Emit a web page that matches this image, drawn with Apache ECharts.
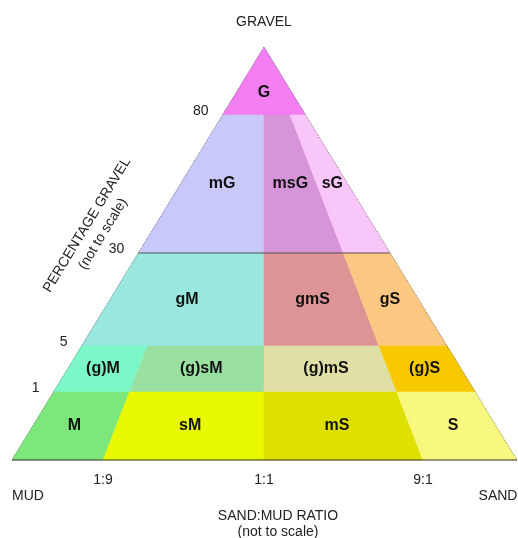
<!DOCTYPE html>
<html><head><meta charset="utf-8">
<script src="https://cdn.jsdelivr.net/npm/echarts@6/dist/echarts.min.js"></script>
<style>html,body{margin:0;padding:0;background:#fff}#c{width:518px;height:538px}</style>
</head><body><div id="c"></div>
<script>
// Classification breaks (not to scale)
var gravelBreaks = [0, 1, 5, 30, 80, 100];          // percentage gravel
var gravelLevels = [0, 68, 114, 207, 345, 413];     // display height units on y axis
var ratioBreaks = [0, 0.1, 0.5, 0.9, 1];            // sand fraction of sand+mud
var ratioLevels = [0, 91, 252, 411, 505];           // display units along base on x axis
var gravelTicks = ['1', '5', '30', '80'];
var ratioTicks = ['1:9', '1:1', '9:1'];
// classes: name, ratio range, gravel range
var classNames  = ['G','mG','msG','sG','gM','gmS','gS','(g)M','(g)sM','(g)mS','(g)S','M','sM','mS','S'];
var classRatio  = [[0,1],[0,0.5],[0.5,0.9],[0.9,1],[0,0.5],[0.5,0.9],[0.9,1],[0,0.1],[0.1,0.5],[0.5,0.9],[0.9,1],[0,0.1],[0.1,0.5],[0.5,0.9],[0.9,1]];
var classGravel = [[80,100],[30,80],[30,80],[30,80],[5,30],[5,30],[5,30],[1,5],[1,5],[1,5],[1,5],[0,1],[0,1],[0,1],[0,1]];
var classColors = ['#f27ef2','#c8c8fa','#d894d9','#f8c6f8','#98e8e0','#dc9494','#fac882','#7cf8c8','#9ae0a0','#e0e0a6','#f8c800','#7ce87c','#e8f800','#e0e000','#f8f880'];

function interp(v, xs, ys){
  for (var i=0;i<xs.length-1;i++){
    if (v<=xs[i+1]) return ys[i] + (v-xs[i])/(xs[i+1]-xs[i])*(ys[i+1]-ys[i]);
  }
  return ys[ys.length-1];
}
var H = gravelLevels[gravelLevels.length-1];
var W = ratioLevels[ratioLevels.length-1];
var apexX = ratioLevels[2];
// map (sand ratio, gravel %) to axis values
function toXY(r, g){
  var h = interp(g, gravelBreaks, gravelLevels);
  var b = interp(r, ratioBreaks, ratioLevels);
  var t = h / H;
  return [apexX + (b - apexX)*(1 - t), h];
}
function toXYh(r, h){
  var b = interp(r, ratioBreaks, ratioLevels);
  return [apexX + (b - apexX)*(1 - h/H), h];
}
function polygon(i){
  var r = classRatio[i], g = classGravel[i];
  return [toXY(r[0],g[0]), toXY(r[1],g[0]), toXY(r[1],g[1]), toXY(r[0],g[1])];
}
function labelPos(i){
  var r = classRatio[i], g = classGravel[i];
  var h0 = interp(g[0], gravelBreaks, gravelLevels), h1 = interp(g[1], gravelBreaks, gravelLevels);
  if (g[1] === 100) { var hc = h0 + (h1-h0)/3; return [apexX, hc]; }
  var hm = (h0+h1)/2;
  var a = toXYh(r[0], hm), b = toXYh(r[1], hm);
  return [(a[0]+b[0])/2, hm];
}
var data = classNames.map(function(n,i){ return {name:n, value:[i]}; });

var chart = echarts.init(document.getElementById('c'));
var FONT = 'Liberation Sans, Arial, sans-serif';
var TF = '14px ' + FONT;

chart.setOption({
  animation:false,
  grid:{left:12, top:47, width:505, height:413},
  xAxis:{type:'value', min:0, max:W, show:false},
  yAxis:{type:'value', min:0, max:H, show:false},
  series:[{
    type:'custom',
    data:data,
    renderItem:function(params, api){
      var i = api.value(0);
      var pts = polygon(i).map(function(p){ return api.coord(p); });
      var lp = api.coord(labelPos(i));
      return {type:'group', children:[
        {type:'polygon', shape:{points:pts}, style:{fill:classColors[i], stroke:classColors[i], lineWidth:0.5}},
        {type:'text', x:lp[0], y:lp[1], style:{text:classNames[i], fill:'#111', font:'bold 16px '+FONT, align:'center', verticalAlign:'middle'}}
      ]};
    }
  },{
    type:'custom',
    data:[0],
    renderItem:function(params, api){
      var ch = [];
      var L0 = api.coord(toXY(0,0)), R0 = api.coord(toXY(1,0));
      var apx = api.coord(toXY(0,100));
      ch.push({type:'line', shape:{x1:L0[0],y1:L0[1],x2:apx[0],y2:apx[1]}, style:{stroke:'#555', lineWidth:0.8, lineDash:[1,1.5]}});
      ch.push({type:'line', shape:{x1:R0[0],y1:R0[1],x2:apx[0],y2:apx[1]}, style:{stroke:'#555', lineWidth:0.8, lineDash:[1,1.5]}});
      ch.push({type:'line', shape:{x1:L0[0],y1:L0[1],x2:R0[0],y2:R0[1]}, style:{stroke:'#333', lineWidth:1}});
      var l30 = api.coord(toXY(0,30)), r30 = api.coord(toXY(1,30));
      ch.push({type:'line', shape:{x1:l30[0],y1:l30[1],x2:r30[0],y2:r30[1]}, style:{stroke:'#555', lineWidth:1}});
      // gravel tick labels
      gravelTicks.forEach(function(t){
        var p = api.coord(toXY(0, +t));
        ch.push({type:'text', x:p[0]-14, y:p[1]-4, style:{text:t, fill:'#222', font:TF, align:'right', verticalAlign:'middle'}});
      });
      // ratio tick labels
      ratioTicks.forEach(function(t, k){
        var p = api.coord(toXY(ratioBreaks[k+1], 0));
        ch.push({type:'text', x:p[0], y:p[1]+20, style:{text:t, fill:'#222', font:TF, align:'center', verticalAlign:'middle'}});
      });
      ch.push({type:'text', x:apx[0], y:apx[1]-25, style:{text:'GRAVEL', fill:'#222', font:TF, align:'center', verticalAlign:'middle'}});
      ch.push({type:'text', x:L0[0]+16, y:L0[1]+36, style:{text:'MUD', fill:'#222', font:TF, align:'center', verticalAlign:'middle'}});
      ch.push({type:'text', x:R0[0]-19, y:R0[1]+36, style:{text:'SAND', fill:'#222', font:TF, align:'center', verticalAlign:'middle'}});
      ch.push({type:'text', x:278, y:L0[1]+56, style:{text:'SAND:MUD RATIO', fill:'#222', font:TF, align:'center', verticalAlign:'middle'}});
      ch.push({type:'text', x:278, y:L0[1]+72, style:{text:'(not to scale)', fill:'#222', font:TF, align:'center', verticalAlign:'middle'}});
      var ang = Math.atan2(L0[1]-apx[1], apx[0]-L0[0]);
      ch.push({type:'text', x:87, y:225, rotation:ang, style:{text:'PERCENTAGE GRAVEL', fill:'#222', font:TF, align:'center', verticalAlign:'middle'}});
      ch.push({type:'text', x:103, y:234, rotation:ang, style:{text:'(not to scale)', fill:'#222', font:TF, align:'center', verticalAlign:'middle'}});
      return {type:'group', children:ch};
    }
  }]
});
</script></body></html>
